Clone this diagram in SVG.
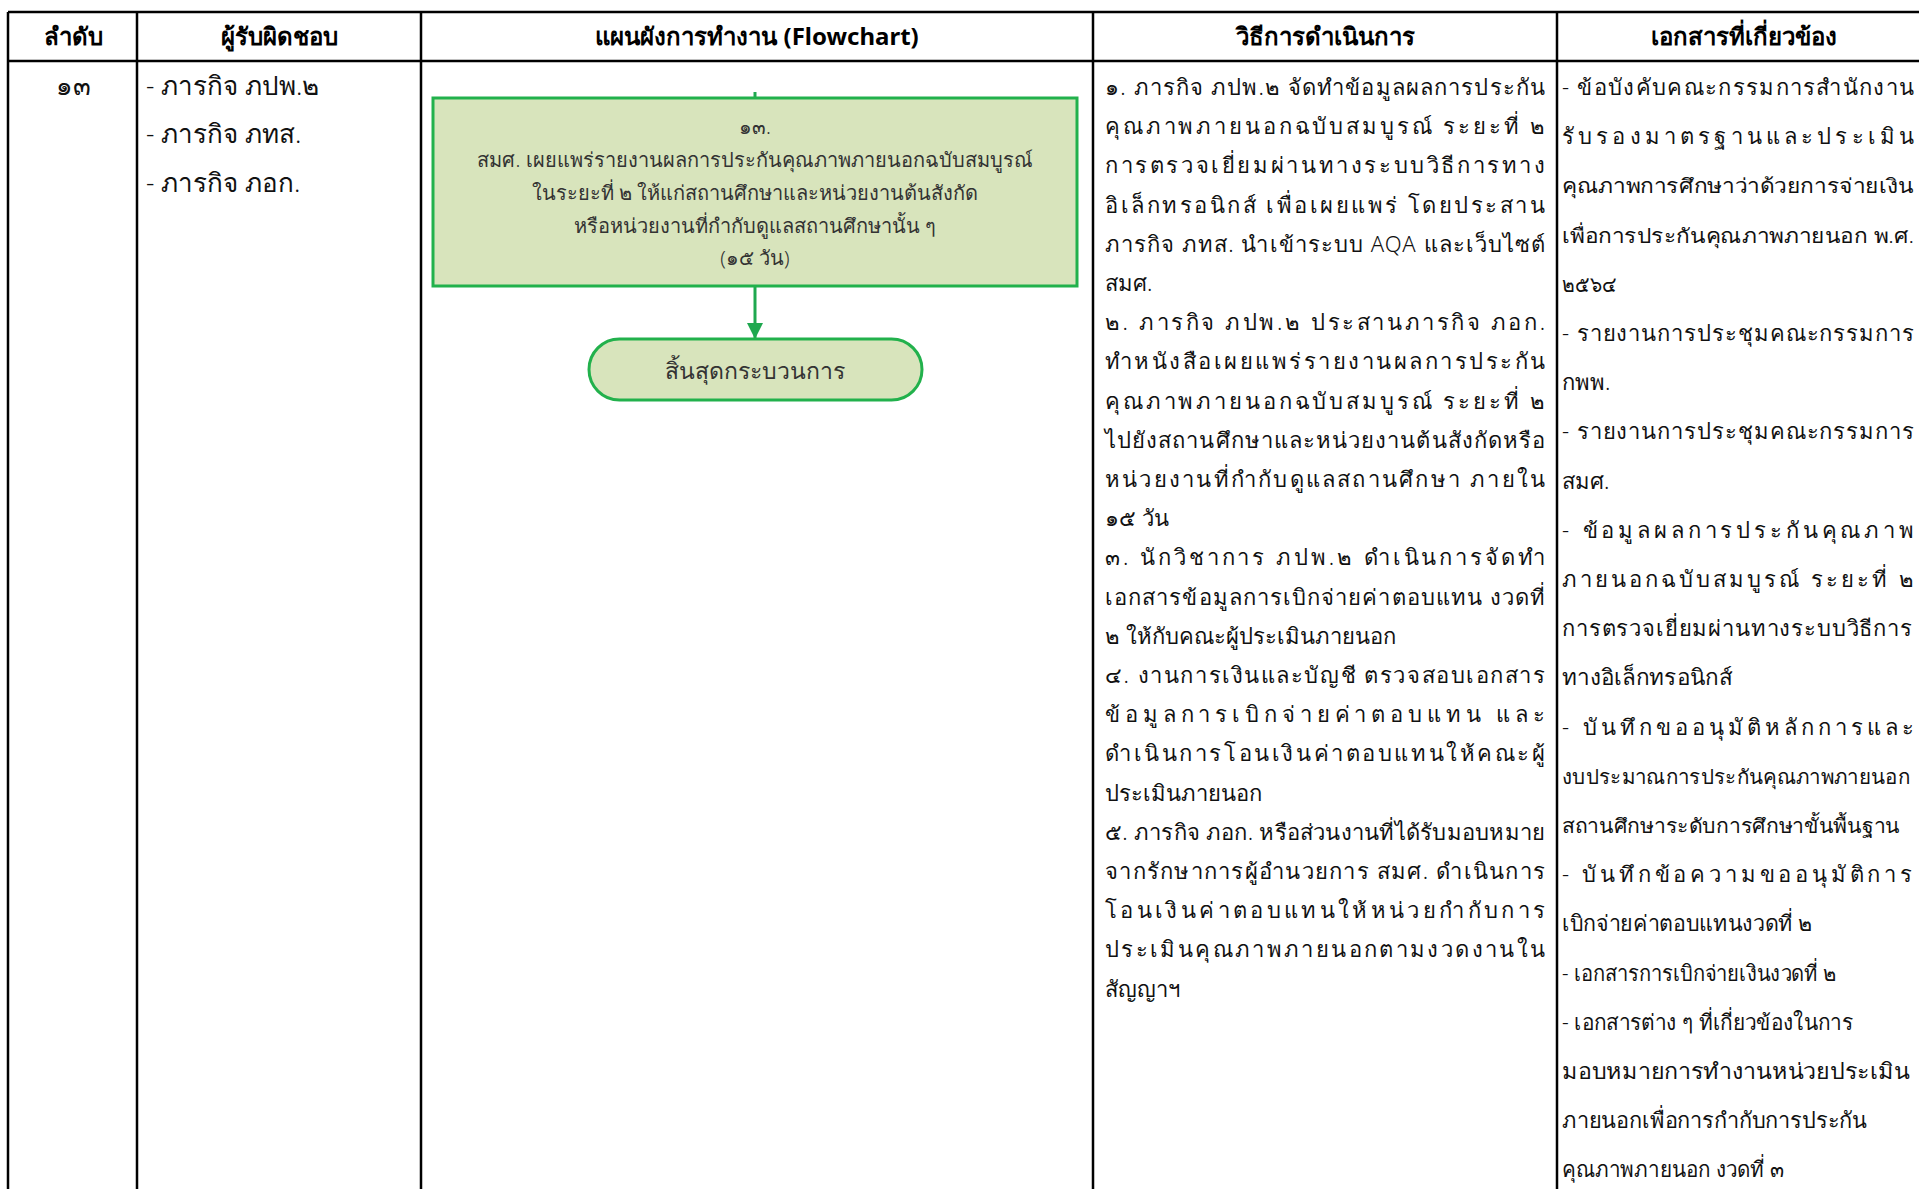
<svg xmlns="http://www.w3.org/2000/svg" width="1919" height="1189" viewBox="0 0 1919 1189">
  <style>
    .grid { stroke: #000; stroke-width: 2.5; fill: none; }
    .hd { font-family: "Noto Sans", "DejaVu Sans", sans-serif; font-weight: bold; font-size: 24px; fill: #000; text-anchor: middle; }
    .tx { font-family: "Noto Sans", "DejaVu Sans", sans-serif; font-weight: 300; font-size: 22px; fill: #111; }
    .big { font-size: 26px; }
    .sm { font-size: 20px; }
    .bx { font-family: "Noto Sans", "DejaVu Sans", sans-serif; font-weight: 300; font-size: 20px; fill: #333; text-anchor: middle; }
    .term { font-size: 23px; }
    .proc { fill: #d8e4bc; stroke: #22b14c; stroke-width: 3; }
    .flow { stroke: #1fa84f; stroke-width: 3; fill: none; }
  </style>
  <defs>
    <marker id="arrow" markerWidth="16" markerHeight="16" refX="15" refY="8" orient="auto" markerUnits="userSpaceOnUse">
      <path d="M0,0 L16,8 L0,16 z" fill="#1fa84f"/>
    </marker>
  </defs>
  <rect width="1919" height="1189" fill="#fff"/>

  <!-- table grid -->
  <g id="table">
    <line class="grid" x1="8" y1="12" x2="1930" y2="12"/>
    <line class="grid" x1="8" y1="61" x2="1930" y2="61"/>
    <line class="grid" x1="8" y1="12" x2="8" y2="1189"/>
    <line class="grid" x1="137" y1="12" x2="137" y2="1189"/>
    <line class="grid" x1="421" y1="12" x2="421" y2="1189"/>
    <line class="grid" x1="1093" y1="12" x2="1093" y2="1189"/>
    <line class="grid" x1="1557" y1="12" x2="1557" y2="1189"/>
  </g>

  <!-- header row -->
  <g id="header">
    <text class="hd" x="73" y="45">ลำดับ</text>
    <text class="hd" x="279" y="45">ผู้รับผิดชอบ</text>
    <text class="hd" x="757" y="45">แผนผังการทำงาน (Flowchart)</text>
    <text class="hd" x="1325" y="45">วิธีการดำเนินการ</text>
    <text class="hd" x="1744" y="45">เอกสารที่เกี่ยวข้อง</text>
  </g>

  <!-- sequence number and responsible units -->
  <g id="col-order">
    <text class="tx big" x="73" y="95" text-anchor="middle">๑๓</text>
  </g>
  <g id="col-owner">
    <text class="tx big" x="146" y="95">- ภารกิจ ภปพ.๒</text>
    <text class="tx big" x="146" y="143">- ภารกิจ ภทส.</text>
    <text class="tx big" x="146" y="192">- ภารกิจ ภอก.</text>
  </g>

  <!-- flowchart -->
  <g id="connectors">
    <line class="flow" x1="755" y1="92" x2="755" y2="98"/>
    <line class="flow" x1="755" y1="286" x2="755" y2="338" marker-end="url(#arrow)"/>
  </g>
  <g id="step-13">
    <rect class="proc" x="433" y="98" width="644" height="188"/>
    <text class="bx" x="755" y="134">๑๓.</text>
    <text class="bx" x="755" y="167">สมศ. เผยแพร่รายงานผลการประกันคุณภาพภายนอกฉบับสมบูรณ์</text>
    <text class="bx" x="755" y="200">ในระยะที่ ๒ ให้แก่สถานศึกษาและหน่วยงานต้นสังกัด</text>
    <text class="bx" x="755" y="233">หรือหน่วยงานที่กำกับดูแลสถานศึกษานั้น ๆ</text>
    <text class="bx" x="755" y="265">(๑๕ วัน)</text>
  </g>
  <g id="end">
    <rect class="proc" x="589" y="339" width="333" height="61" rx="30.5"/>
    <text class="bx term" x="755" y="379">สิ้นสุดกระบวนการ</text>
  </g>

  <!-- procedure column -->
  <g id="col-method">
    <text class="tx" x="1105" y="95" textLength="440" lengthAdjust="spacing">๑. ภารกิจ ภปพ.๒ จัดทำข้อมูลผลการประกัน</text>
    <text class="tx" x="1105" y="134" textLength="440" lengthAdjust="spacing">คุณภาพภายนอกฉบับสมบูรณ์ ระยะที่ ๒</text>
    <text class="tx" x="1105" y="173" textLength="440" lengthAdjust="spacing">การตรวจเยี่ยมผ่านทางระบบวิธีการทาง</text>
    <text class="tx" x="1105" y="213" textLength="440" lengthAdjust="spacing">อิเล็กทรอนิกส์ เพื่อเผยแพร่ โดยประสาน</text>
    <text class="tx" x="1105" y="252" textLength="440" lengthAdjust="spacing">ภารกิจ ภทส. นำเข้าระบบ AQA และเว็บไซต์</text>
    <text class="tx" x="1105" y="291">สมศ.</text>
    <text class="tx" x="1105" y="330" textLength="440" lengthAdjust="spacing">๒. ภารกิจ ภปพ.๒ ประสานภารกิจ ภอก.</text>
    <text class="tx" x="1105" y="369" textLength="440" lengthAdjust="spacing">ทำหนังสือเผยแพร่รายงานผลการประกัน</text>
    <text class="tx" x="1105" y="409" textLength="440" lengthAdjust="spacing">คุณภาพภายนอกฉบับสมบูรณ์ ระยะที่ ๒</text>
    <text class="tx" x="1105" y="448" textLength="440" lengthAdjust="spacing">ไปยังสถานศึกษาและหน่วยงานต้นสังกัดหรือ</text>
    <text class="tx" x="1105" y="487" textLength="440" lengthAdjust="spacing">หน่วยงานที่กำกับดูแลสถานศึกษา ภายใน</text>
    <text class="tx" x="1105" y="526">๑๕ วัน</text>
    <text class="tx" x="1105" y="565" textLength="440" lengthAdjust="spacing">๓. นักวิชาการ ภปพ.๒ ดำเนินการจัดทำ</text>
    <text class="tx" x="1105" y="605" textLength="440" lengthAdjust="spacing">เอกสารข้อมูลการเบิกจ่ายค่าตอบแทน งวดที่</text>
    <text class="tx" x="1105" y="644">๒ ให้กับคณะผู้ประเมินภายนอก</text>
    <text class="tx" x="1105" y="683" textLength="440" lengthAdjust="spacing">๔. งานการเงินและบัญชี ตรวจสอบเอกสาร</text>
    <text class="tx" x="1105" y="722" textLength="440" lengthAdjust="spacing">ข้อมูลการเบิกจ่ายค่าตอบแทน และ</text>
    <text class="tx" x="1105" y="761" textLength="440" lengthAdjust="spacing">ดำเนินการโอนเงินค่าตอบแทนให้คณะผู้</text>
    <text class="tx" x="1105" y="801">ประเมินภายนอก</text>
    <text class="tx" x="1105" y="840" textLength="440" lengthAdjust="spacing">๕. ภารกิจ ภอก. หรือส่วนงานที่ได้รับมอบหมาย</text>
    <text class="tx" x="1105" y="879" textLength="440" lengthAdjust="spacing">จากรักษาการผู้อำนวยการ สมศ. ดำเนินการ</text>
    <text class="tx" x="1105" y="918" textLength="440" lengthAdjust="spacing">โอนเงินค่าตอบแทนให้หน่วยกำกับการ</text>
    <text class="tx" x="1105" y="957" textLength="440" lengthAdjust="spacing">ประเมินคุณภาพภายนอกตามงวดงานใน</text>
    <text class="tx" x="1105" y="997">สัญญาฯ</text>
  </g>

  <!-- related documents column -->
  <g id="col-docs">
    <text class="tx" x="1562" y="95" textLength="352" lengthAdjust="spacing">- ข้อบังคับคณะกรรมการสำนักงาน</text>
    <text class="tx" x="1562" y="144" textLength="352" lengthAdjust="spacing">รับรองมาตรฐานและประเมิน</text>
    <text class="tx sm" x="1562" y="193" textLength="352" lengthAdjust="spacingAndGlyphs">คุณภาพการศึกษาว่าด้วยการจ่ายเงิน</text>
    <text class="tx sm" x="1562" y="243" textLength="352" lengthAdjust="spacingAndGlyphs">เพื่อการประกันคุณภาพภายนอก พ.ศ.</text>
    <text class="tx" x="1562" y="292" textLength="55" lengthAdjust="spacingAndGlyphs">๒๕๖๔</text>
    <text class="tx" x="1562" y="341" textLength="352" lengthAdjust="spacing">- รายงานการประชุมคณะกรรมการ</text>
    <text class="tx" x="1562" y="390">กพพ.</text>
    <text class="tx" x="1562" y="439" textLength="352" lengthAdjust="spacing">- รายงานการประชุมคณะกรรมการ</text>
    <text class="tx" x="1562" y="489">สมศ.</text>
    <text class="tx" x="1562" y="538" textLength="352" lengthAdjust="spacing">- ข้อมูลผลการประกันคุณภาพ</text>
    <text class="tx" x="1562" y="587" textLength="352" lengthAdjust="spacing">ภายนอกฉบับสมบูรณ์ ระยะที่ ๒</text>
    <text class="tx" x="1562" y="636" textLength="350" lengthAdjust="spacing">การตรวจเยี่ยมผ่านทางระบบวิธีการ</text>
    <text class="tx" x="1562" y="685" textLength="170" lengthAdjust="spacingAndGlyphs">ทางอิเล็กทรอนิกส์</text>
    <text class="tx" x="1562" y="735" textLength="352" lengthAdjust="spacing">-  บันทึกขออนุมัติหลักการและ</text>
    <text class="tx sm" x="1562" y="784" textLength="348" lengthAdjust="spacingAndGlyphs">งบประมาณการประกันคุณภาพภายนอก</text>
    <text class="tx sm" x="1562" y="833" textLength="338" lengthAdjust="spacingAndGlyphs">สถานศึกษาระดับการศึกษาขั้นพื้นฐาน</text>
    <text class="tx" x="1562" y="882" textLength="350" lengthAdjust="spacing">- บันทึกข้อความขออนุมัติการ</text>
    <text class="tx" x="1562" y="931" textLength="251" lengthAdjust="spacingAndGlyphs">เบิกจ่ายค่าตอบแทนงวดที่ ๒</text>
    <text class="tx" x="1562" y="981" textLength="275" lengthAdjust="spacingAndGlyphs">- เอกสารการเบิกจ่ายเงินงวดที่ ๒</text>
    <text class="tx" x="1562" y="1030" textLength="291" lengthAdjust="spacingAndGlyphs">- เอกสารต่าง ๆ ที่เกี่ยวข้องในการ</text>
    <text class="tx" x="1562" y="1079" textLength="348" lengthAdjust="spacingAndGlyphs">มอบหมายการทำงานหน่วยประเมิน</text>
    <text class="tx" x="1562" y="1128" textLength="305" lengthAdjust="spacingAndGlyphs">ภายนอกเพื่อการกำกับการประกัน</text>
    <text class="tx" x="1562" y="1177" textLength="222" lengthAdjust="spacingAndGlyphs">คุณภาพภายนอก งวดที่ ๓</text>
  </g>
</svg>
